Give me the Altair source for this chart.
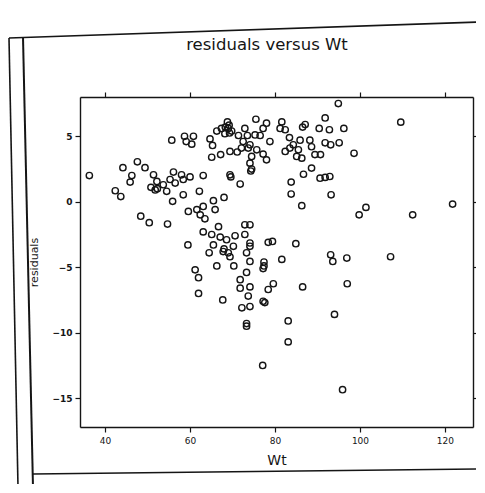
import altair as alt
import pandas as pd

wt = [
    36.3, 42.4, 43.7, 44.2, 45.9, 46.3, 47.6, 48.4, 49.4, 50.4,
    51.4, 52.2, 51.8, 50.8, 52.3, 53.7, 54.5, 55.3, 56.1, 56.5,
    58.0, 58.4, 60.0, 58.4, 55.9, 62.2, 63.1, 65.5, 68.0, 69.4,
    69.6, 71.8, 74.1, 74.5, 74.3, 55.7, 58.7, 59.1, 60.8, 60.4,
    64.7, 65.3, 65.1, 67.2, 66.3, 67.4, 68.8, 69.0, 69.8, 68.2,
    69.2, 69.4, 71.1, 71.4, 72.5, 72.9, 73.5, 72.1, 73.7, 68.3,
    69.3, 74.5,
    94.9, 91.8, 90.4, 92.8, 96.2, 87.1, 86.5, 81.6, 81.2, 82.4,
    78.0, 77.2, 75.5, 75.3, 76.5, 78.8, 83.4, 84.3, 85.9, 88.2,
    88.6, 91.8, 93.1, 95.1, 98.6, 82.4, 83.5, 85.1, 86.3, 85.5,
    89.4, 90.7, 74.1, 75.7, 77.2, 78.0, 88.6, 86.7, 90.6, 91.8,
    92.9, 83.8, 83.8, 93.2, 86.3,
    109.6, 99.8, 101.4, 112.4, 121.8,
    54.7, 59.6, 61.6, 62.4, 63.1, 63.5, 65.9, 66.7, 63.1, 65.1,
    67.1, 65.5, 64.5, 59.5, 68.6, 67.8, 68.0, 69.0, 69.4, 70.6,
    70.2, 72.9, 72.9, 74.1, 74.1, 74.1, 73.3, 74.1, 66.3, 70.3,
    61.2, 62.0, 62.0, 67.7, 73.3, 71.8, 71.8, 74.1, 73.7, 72.2,
    74.1, 73.3, 73.3,
    78.4, 79.4, 84.9, 77.4, 77.4, 77.2, 81.6, 93.1, 93.6, 96.9,
    107.2, 79.6, 78.4, 86.5, 97.0, 77.2, 77.6, 94.0, 83.1, 83.1,
    77.1, 95.9,
]

residuals = [
    2.0, 0.84, 0.4, 2.6, 1.5, 2.0, 3.05, -1.1, 2.6, -1.6,
    2.06, 1.55, 0.9, 1.1, 1.0, 1.3, 0.8, 1.7, 2.27, 1.43,
    2.06, 1.7, 1.9, 0.53, 0.03, 0.8, 2.0, 0.08, 0.33, 2.06,
    1.9, 1.35, 2.95, 2.5, 2.35, 4.7, 5.0, 4.6, 5.0, 4.4,
    4.8, 4.3, 3.4, 3.6, 5.4, 5.6, 6.1, 5.6, 5.4, 5.2,
    5.85, 3.84, 3.8, 5.06, 4.6, 5.6, 5.06, 4.1, 4.1, 5.7,
    5.25, 3.46,
    7.5, 6.4, 5.6, 5.5, 5.6, 5.9, 5.7, 6.1, 5.6, 5.5,
    6.0, 5.6, 6.3, 5.1, 5.06, 4.6, 4.9, 4.35, 4.7, 4.7,
    4.2, 4.5, 4.35, 4.5, 3.7, 3.84, 4.1, 3.46, 3.33, 3.97,
    3.6, 3.6, 4.35, 3.97, 3.64, 3.2, 2.57, 2.1, 1.8, 1.86,
    1.93, 1.5, 0.59, 0.53, -0.3,
    6.08, -1.0, -0.43, -1.0, -0.18,
    -1.7, -0.74, -0.6, -1.0, -0.36, -1.3, -0.6, -1.9, -2.3, -2.5,
    -2.7, -3.3, -3.9, -3.3, -2.9, -3.8, -3.6, -3.9, -4.2, -2.6,
    -3.4, -2.5, -1.76, -1.76, -3.15, -3.4, -3.9, -4.56, -4.9, -4.9,
    -5.2, -5.8, -7.0, -7.5, -5.4, -5.95, -6.6, -6.5, -7.2, -8.1,
    -8.0, -9.3, -9.5,
    -3.1, -3.03, -3.2, -4.6, -4.9, -5.1, -4.4, -4.05, -4.56, -4.3,
    -4.2, -6.26, -6.7, -6.5, -6.26, -7.6, -7.7, -8.6, -9.1, -10.7,
    -12.5, -14.35,
]

x_ticks = [40, 60, 80, 100, 120]
y_ticks = [5, 0, -5, -10, -15]
title_text = ["residuals versus Wt"]

df = pd.DataFrame({"Wt": wt, "residuals": residuals})
tdf = pd.DataFrame({"t": title_text})

FONT = "DejaVu Sans"
INK = "#151515"

xscale = alt.Scale(domain=[34.1, 126.6], nice=False, zero=False)
yscale = alt.Scale(domain=[-17.2, 8.0], nice=False, zero=False)

common = dict(grid=False, tickSize=5, tickWidth=1.2, domain=True, domainColor=INK,
              domainWidth=1.4, tickColor=INK)

points = alt.Chart(df).mark_point(
    shape="circle", filled=False, size=40, strokeWidth=1.4, color=INK, opacity=1
).encode(
    x=alt.X("Wt:Q", scale=xscale,
            axis=alt.Axis(values=x_ticks, title="Wt", labelFontSize=9, titleFontSize=14,
                          titlePadding=8, labelPadding=4, labelColor=INK, titleColor=INK,
                          titleFontWeight="normal", labelFont=FONT, titleFont=FONT, **common)),
    y=alt.Y("residuals:Q", scale=yscale,
            axis=alt.Axis(values=y_ticks, title="residuals", labelFontSize=9,
                          titleFontSize=11, titlePadding=12, labelPadding=3,
                          labelColor=INK, titleColor=INK, labelFontWeight="bold",
                          titleFontWeight="normal", labelFont=FONT, titleFont=FONT, **common)),
)

frame_axes = alt.Chart(df).mark_point(opacity=0).encode(
    x=alt.X("Wt:Q", scale=xscale,
            axis=alt.Axis(values=x_ticks, orient="top", labels=False, title=None, **common)),
    y=alt.Y("residuals:Q", scale=yscale,
            axis=alt.Axis(values=y_ticks, orient="right", labels=False, title=None, **common)),
)

title = alt.Chart(tdf).mark_text(
    font=FONT, fontSize=16.5, color=INK, align="center", baseline="middle"
).encode(text="t:N", x=alt.value(187), y=alt.value(-52))

# outer page frame of the scanned lattice figure (decoration)
frame_outer = alt.Chart(tdf).mark_rule(color=INK, strokeWidth=1.6).encode(
    x=alt.value(-71), y=alt.value(-59), x2=alt.value(-62), y2=alt.value(390)
)
frame_inner = alt.Chart(tdf).mark_rule(color=INK, strokeWidth=2).encode(
    x=alt.value(-57), y=alt.value(-60), x2=alt.value(-47), y2=alt.value(390)
)
frame_top = alt.Chart(tdf).mark_rule(color=INK, strokeWidth=1.6).encode(
    x=alt.value(-71), y=alt.value(-59), x2=alt.value(400), y2=alt.value(-75)
)
frame_bottom = alt.Chart(tdf).mark_rule(color=INK, strokeWidth=1.6).encode(
    x=alt.value(-47), y=alt.value(377), x2=alt.value(400), y2=alt.value(372)
)

chart = alt.layer(
    points, frame_axes, title, frame_outer, frame_inner, frame_top, frame_bottom
).resolve_axis(
    x="independent", y="independent"
).properties(
    width=393,
    height=330,
    autosize=alt.AutoSizeParams(type="none"),
    padding={"left": 72, "top": 89, "right": 3, "bottom": 57},
).configure_view(stroke=None).configure(background="white")

chart.save("out.html", embed_options={"renderer": "svg", "actions": False})
